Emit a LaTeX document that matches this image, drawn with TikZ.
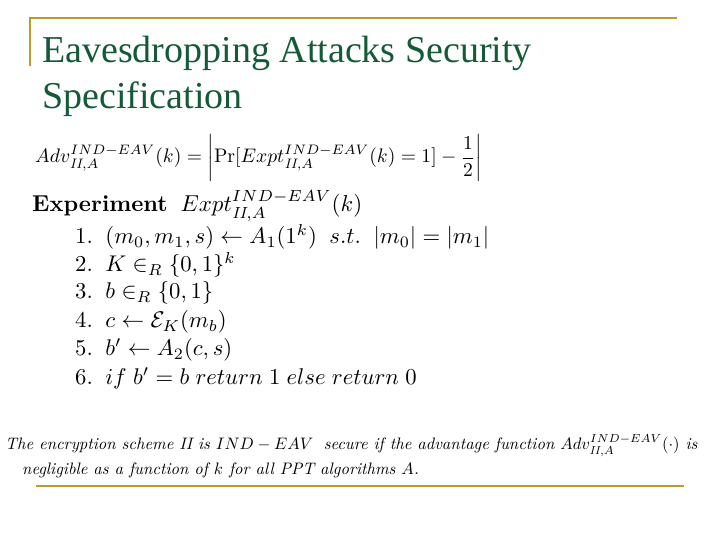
\documentclass[tikz,border=0pt]{standalone}
\usepackage{amsmath,amssymb,graphicx}
\usepackage{fontspec}
\newfontfamily\titlefont{Liberation Serif}
\definecolor{gold}{RGB}{190,155,40}
\definecolor{titlegreen}{RGB}{20,90,55}
\newcommand{\lst}[1]{\scalebox{2.27}{$#1$}}
\tikzset{txt/.style={anchor=west,inner sep=0pt},
 goldline/.style={draw=gold,line width=2.5pt}}
\begin{document}
\begin{tikzpicture}[x=1pt,y=-1pt]
\useasboundingbox (0,0) rectangle (720,540);
\coordinate (t1) at (30,18); \coordinate (t2) at (677,18); \coordinate (t3) at (30,66);
\draw[goldline] (t3) -- (t1) -- (t2);
\coordinate (b1) at (36,486); \coordinate (b2) at (684,486);
\draw[goldline] (b1) -- (b2);
\node[txt,text=titlegreen,font=\titlefont\fontsize{38}{46}\selectfont,align=left] (title) at (42,76)
 {Eavesdropping Attacks Security\\Specification};
\node[txt] (adv) at (35,158)
 {\scalebox{1.96}{$Adv_{\mathit{II},A}^{IND-EAV}(k)=\left|\Pr[Expt_{\mathit{II},A}^{IND-EAV}(k)=1]-\dfrac{1}{2}\right|$}};
\node[txt] (exp) at (32,206)
 {\scalebox{2.3}{$\textbf{Experiment}\;\;Expt_{\mathit{II},A}^{IND-EAV}(k)$}};
\node[txt] (l1) at (75,237) {\lst{1.\;\;(m_0,m_1,s)\leftarrow A_1(1^k)\;\;s.t.\;\;|m_0|=|m_1|}};
\node[txt] (l2) at (75,265) {\lst{2.\;\;K\in_R\{0,1\}^k}};
\node[txt] (l3) at (75,293) {\lst{3.\;\;b\in_R\{0,1\}}};
\node[txt] (l4) at (75,322) {\lst{4.\;\;c\leftarrow\mathcal{E}_K(m_b)}};
\node[txt] (l5) at (75,350) {\lst{5.\;\;b'\leftarrow A_2(c,s)}};
\node[txt] (l6) at (75,378) {\lst{6.\;\;if\;b'=b\;return\;1\;else\;return\;0}};
\node[txt] (s1) at (5,446)
 {\scalebox{1.66}{\itshape The encryption scheme $\mathit{II}$ is $IND-EAV$\; secure if the advantage function $Adv_{\mathit{II},A}^{IND-EAV}(\cdot)$ is}};
\node[txt] (s2) at (22,470)
 {\scalebox{1.66}{\itshape negligible as a function of $k$ for all PPT algorithms $A$.}};
\end{tikzpicture}
\end{document}
